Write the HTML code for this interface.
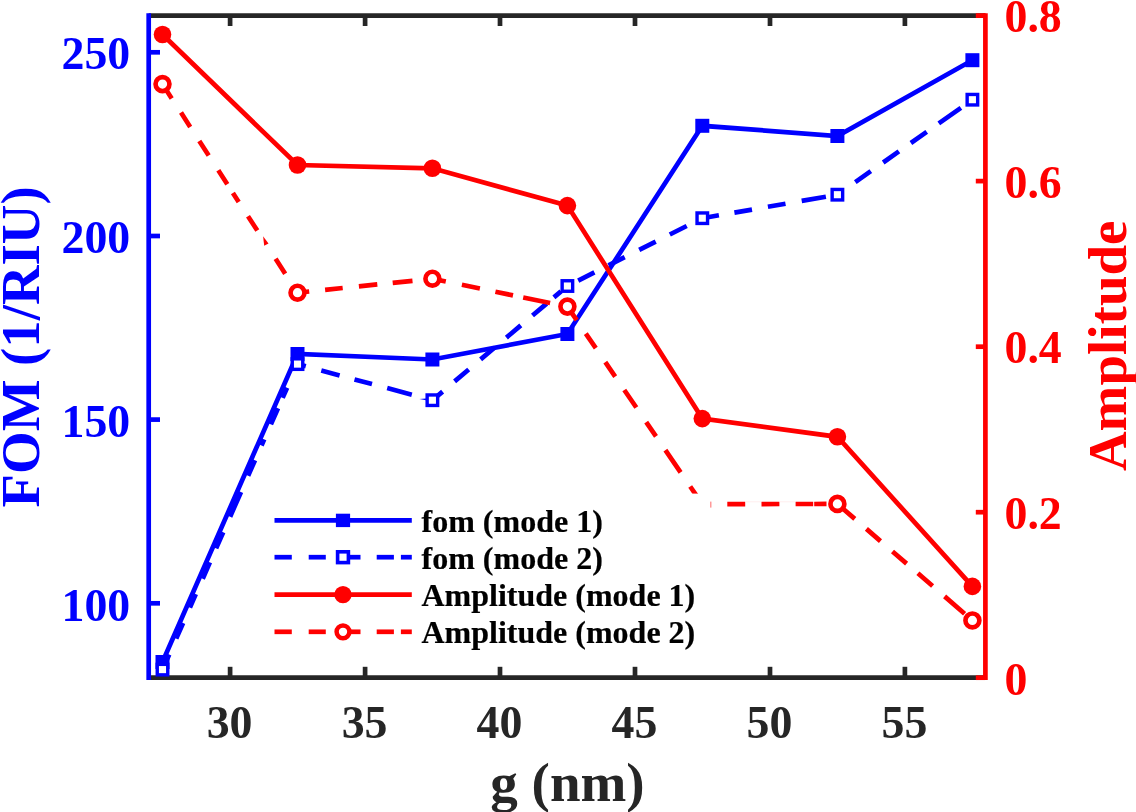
<!DOCTYPE html>
<html lang="en"><head><meta charset="utf-8"><title>FOM and Amplitude vs g</title>
<style>html,body{margin:0;padding:0;background:#fff;overflow:hidden}svg{display:block}text{font-family:"Liberation Serif","Times New Roman",serif;font-weight:bold}</style></head><body>
<svg width="1136" height="812" viewBox="0 0 1136 812">
<rect width="1136" height="812" fill="#fff"/>
<g stroke="#262626" stroke-width="4.7" fill="none">
<line x1="148.7" y1="15.6" x2="985.4" y2="15.6"/>
<line x1="148.7" y1="677.7" x2="985.4" y2="677.7"/>
<line x1="230.1" y1="15.6" x2="230.1" y2="26.0"/>
<line x1="230.1" y1="677.7" x2="230.1" y2="666.8"/>
<line x1="365.1" y1="15.6" x2="365.1" y2="26.0"/>
<line x1="365.1" y1="677.7" x2="365.1" y2="666.8"/>
<line x1="500.0" y1="15.6" x2="500.0" y2="26.0"/>
<line x1="500.0" y1="677.7" x2="500.0" y2="666.8"/>
<line x1="635.0" y1="15.6" x2="635.0" y2="26.0"/>
<line x1="635.0" y1="677.7" x2="635.0" y2="666.8"/>
<line x1="770.0" y1="15.6" x2="770.0" y2="26.0"/>
<line x1="770.0" y1="677.7" x2="770.0" y2="666.8"/>
<line x1="904.9" y1="15.6" x2="904.9" y2="26.0"/>
<line x1="904.9" y1="677.7" x2="904.9" y2="666.8"/>
</g>
<g stroke="#0000ff" stroke-width="4.7" fill="none">
<line x1="148.7" y1="13.3" x2="148.7" y2="680.0"/>
<line x1="148.7" y1="603.3" x2="160.0" y2="603.3"/>
<line x1="148.7" y1="419.6" x2="160.0" y2="419.6"/>
<line x1="148.7" y1="236.0" x2="160.0" y2="236.0"/>
<line x1="148.7" y1="52.3" x2="160.0" y2="52.3"/>
</g>
<g stroke="#ff0000" stroke-width="4.7" fill="none">
<line x1="985.4" y1="13.3" x2="985.4" y2="680.0"/>
<line x1="985.4" y1="677.7" x2="975.8" y2="677.7"/>
<line x1="985.4" y1="512.2" x2="975.8" y2="512.2"/>
<line x1="985.4" y1="346.7" x2="975.8" y2="346.7"/>
<line x1="985.4" y1="181.1" x2="975.8" y2="181.1"/>
<line x1="985.4" y1="15.6" x2="975.8" y2="15.6"/>
</g>
<g stroke="#0000ff" stroke-width="4.7" fill="none">
<polyline points="162.5,662.0 297.5,354.0 432.4,359.5 567.4,334.0 702.3,125.8 837.4,136.0 972.4,60.2"/>
<rect x="155.5" y="655.0" width="14" height="14" fill="#0000ff" stroke="none"/>
<rect x="290.5" y="347.0" width="14" height="14" fill="#0000ff" stroke="none"/>
<rect x="425.4" y="352.5" width="14" height="14" fill="#0000ff" stroke="none"/>
<rect x="560.4" y="327.0" width="14" height="14" fill="#0000ff" stroke="none"/>
<rect x="695.3" y="118.8" width="14" height="14" fill="#0000ff" stroke="none"/>
<rect x="830.4" y="129.0" width="14" height="14" fill="#0000ff" stroke="none"/>
<rect x="965.4" y="53.2" width="14" height="14" fill="#0000ff" stroke="none"/>
<path d="M162.5 669.6L169.2 654.5M176.2 638.6L183.1 623.0M189.9 607.6L195.8 594.1M202.7 578.7L209.9 562.4M216.1 548.4L223.2 532.2M230.1 516.7L241.0 492.0M248.1 475.8L255.0 460.2M261.5 445.5L264.2 439.4M270.9 424.4L278.0 408.2M282.6 397.9L287.1 387.7M297.5 364.1L305.8 366.3M321.3 370.5L339.6 375.4M354.5 379.4L372.0 384.0M387.2 388.1L411.8 394.7M432.4 400.2L442.6 391.6M454.6 381.4L468.7 369.5M480.6 359.4L494.7 347.5M506.4 337.6L520.8 325.4M532.5 315.5L546.6 303.6M553.9 297.4L561.0 291.4M578.2 280.6L594.4 272.4M608.5 265.3L624.7 257.2M639.2 249.9L655.7 241.6M669.8 234.5L686.7 226.0M702.3 218.2L718.9 215.3M734.4 212.6L752.0 209.6M767.9 206.8L785.5 203.7M801.7 200.9L825.9 196.7M855.3 182.1L870.8 171.2M883.2 162.5L898.9 151.4M910.9 143.0L926.7 131.9M938.8 123.3L960.9 107.8"/>
<path d="M419.4 398.9L426 400.3L426 398.4Z" fill="#0000ff" stroke="none"/>
<rect x="157.25" y="664.35" width="10.5" height="10.5" fill="#fff" stroke-width="3.4"/>
<rect x="292.25" y="358.85" width="10.5" height="10.5" fill="#fff" stroke-width="3.4"/>
<rect x="427.15" y="394.95" width="10.5" height="10.5" fill="#fff" stroke-width="3.4"/>
<rect x="562.15" y="280.75" width="10.5" height="10.5" fill="#fff" stroke-width="3.4"/>
<rect x="697.05" y="212.95" width="10.5" height="10.5" fill="#fff" stroke-width="3.4"/>
<rect x="832.15" y="189.45" width="10.5" height="10.5" fill="#fff" stroke-width="3.4"/>
<rect x="967.15" y="94.45" width="10.5" height="10.5" fill="#fff" stroke-width="3.4"/>
</g>
<g stroke="#ff0000" stroke-width="4.7" fill="none">
<polyline points="162.5,34.5 297.5,165.0 432.4,168.3 567.4,205.6 702.3,418.6 837.4,436.8 972.4,586.4"/>
<circle cx="162.5" cy="34.5" r="8.8" fill="#ff0000" stroke="none"/>
<circle cx="297.5" cy="165.0" r="8.8" fill="#ff0000" stroke="none"/>
<circle cx="432.4" cy="168.3" r="8.8" fill="#ff0000" stroke="none"/>
<circle cx="567.4" cy="205.6" r="8.8" fill="#ff0000" stroke="none"/>
<circle cx="702.3" cy="418.6" r="8.8" fill="#ff0000" stroke="none"/>
<circle cx="837.4" cy="436.8" r="8.8" fill="#ff0000" stroke="none"/>
<circle cx="972.4" cy="586.4" r="8.8" fill="#ff0000" stroke="none"/>
<path d="M162.5 84.1L171.7 98.4M181.0 112.6L190.2 126.9M199.3 141.0L208.7 155.5M218.3 170.3L227.3 184.3M232.9 192.9L238.7 201.9M248.0 216.2L257.3 230.6M275.6 258.8L285.2 273.7M297.5 292.7L309.2 291.5M325.1 289.8L342.7 288.0M358.9 286.3L377.3 284.4M392.7 282.8L412.5 280.8M432.4 278.7L445.8 281.5M461.9 284.8L479.9 288.5M495.4 291.7L513.0 295.4M523.2 297.5L550.1 303.0M567.4 306.6L576.7 320.2M585.8 333.6L595.8 348.1M605.3 362.2L615.2 376.6M624.3 390.0L636.3 407.5M646.2 422.1L656.0 436.4M665.4 450.2L680.6 472.4M690.2 486.5L698.2 498.2M727.3 504.1L745.2 504.1M761.5 504.1L779.4 504.0M795.6 504.0L813.2 504.0M814.2 504.0L826.5 503.9M837.4 503.9L854.8 518.9M866.4 528.9L880.5 541.1M892.5 551.5L906.6 563.6M917.9 573.3L932.6 586.0M944.6 596.4L964.6 613.7"/>
<path d="M263.1 236.3L268.5 243.4L264.2 245.8Z" fill="#ff0000" stroke="none"/>
<rect x="680" y="493.6" width="30.2" height="24" fill="#fff" stroke="none"/>
<rect x="710.2" y="501.6" width="1.2" height="6" fill="#ff8080" stroke="none"/>
<path d="M745.5 501.8H761M779.8 501.8H795" stroke="#ffeeee" stroke-width="1"/>
<circle cx="162.5" cy="84.1" r="6.95" fill="#fff" stroke-width="4.65"/>
<circle cx="297.5" cy="292.7" r="6.95" fill="#fff" stroke-width="4.65"/>
<circle cx="432.4" cy="278.7" r="6.95" fill="#fff" stroke-width="4.65"/>
<circle cx="567.4" cy="306.6" r="6.95" fill="#fff" stroke-width="4.65"/>
<circle cx="837.4" cy="503.9" r="6.95" fill="#fff" stroke-width="4.65"/>
<circle cx="972.4" cy="620.4" r="6.95" fill="#fff" stroke-width="4.65"/>
</g>
<g stroke-width="4.7" fill="none">
<line x1="274.5" y1="520.4" x2="411.8" y2="520.4" stroke="#0000ff"/>
<rect x="335.9" y="513.7" width="14.2" height="13.4" fill="#0000ff" stroke="none"/>
<line x1="274.5" y1="557.2" x2="291.8" y2="557.2" stroke="#0000ff"/>
<line x1="308.7" y1="557.2" x2="325.8" y2="557.2" stroke="#0000ff"/>
<line x1="343.0" y1="557.2" x2="360.5" y2="557.2" stroke="#0000ff"/>
<line x1="376.7" y1="557.2" x2="393.9" y2="557.2" stroke="#0000ff"/>
<line x1="400.9" y1="557.2" x2="411.8" y2="557.2" stroke="#0000ff"/>
<rect x="337.6" y="551.8" width="10.8" height="10.8" fill="#fff" stroke="#0000ff" stroke-width="3.6"/>
<line x1="274.5" y1="594.6" x2="411.8" y2="594.6" stroke="#ff0000"/>
<circle cx="343.0" cy="594.6" r="8.7" fill="#ff0000" stroke="none"/>
<line x1="274.5" y1="631.8" x2="291.8" y2="631.8" stroke="#ff0000"/>
<line x1="308.7" y1="631.8" x2="325.8" y2="631.8" stroke="#ff0000"/>
<line x1="343.0" y1="631.8" x2="360.5" y2="631.8" stroke="#ff0000"/>
<line x1="376.7" y1="631.8" x2="393.9" y2="631.8" stroke="#ff0000"/>
<line x1="400.9" y1="631.8" x2="411.8" y2="631.8" stroke="#ff0000"/>
<circle cx="343.0" cy="631.8" r="6.4" fill="#fff" stroke="#ff0000" stroke-width="4.5"/>
</g>
<g font-size="32" fill="#000" stroke="#000" stroke-width="0.2">
<text x="421.5" y="531.9">fom (mode 1)</text>
<text x="421.5" y="568.7">fom (mode 2)</text>
<text x="421.5" y="606.1">Amplitude (mode 1)</text>
<text x="421.5" y="643.3">Amplitude (mode 2)</text>
</g>
<g font-size="45.8" fill="#262626" text-anchor="middle">
<text x="229.6" y="738.3">30</text>
<text x="364.6" y="738.3">35</text>
<text x="499.5" y="738.3">40</text>
<text x="634.5" y="738.3">45</text>
<text x="769.5" y="738.3">50</text>
<text x="904.4" y="738.3">55</text>
</g>
<g font-size="45.8" fill="#0000ff" text-anchor="end">
<text x="130.2" y="620.9">100</text>
<text x="130.2" y="436.6">150</text>
<text x="130.2" y="253.0">200</text>
<text x="130.2" y="69.3">250</text>
</g>
<g font-size="45.8" fill="#ff0000" text-anchor="start">
<text x="1004.5" y="695.2">0</text>
<text x="1004.5" y="528.9">0.2</text>
<text x="1004.5" y="363.4">0.4</text>
<text x="1004.5" y="197.8">0.6</text>
<text x="1004.5" y="32.3">0.8</text>
</g>
<text x="567.5" y="801" font-size="55" fill="#262626" text-anchor="middle">g (nm)</text>
<text transform="translate(38.6,346.9) rotate(-90)" font-size="54.8" fill="#0000ff" text-anchor="middle">FOM (1/RIU)</text>
<text transform="translate(1125.8,345.8) rotate(-90)" font-size="55" fill="#ff0000" text-anchor="middle">Amplitude</text>
</svg></body></html>
